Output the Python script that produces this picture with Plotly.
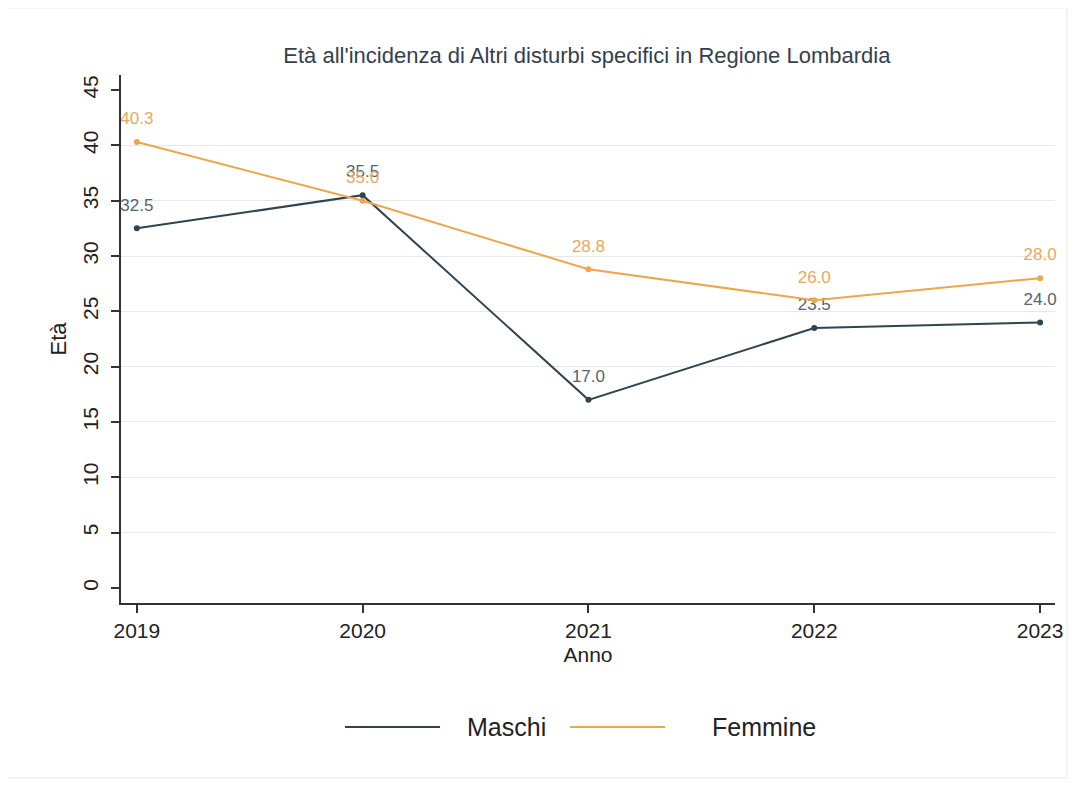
import plotly.graph_objects as go

anni = [2019, 2020, 2021, 2022, 2023]
maschi = [32.5, 35.5, 17.0, 23.5, 24.0]
femmine = [40.3, 35.0, 28.8, 26.0, 28.0]
y_ticks = [0, 5, 10, 15, 20, 25, 30, 35, 40, 45]
grid_ticks = [5, 10, 15, 20, 25, 30, 35, 40]
serie = ["Maschi", "Femmine"]

col_m = "#2e4450"
col_f = "#eca64c"
font = "Liberation Sans, Arial, sans-serif"

fig = go.Figure()
for nome, vals, col, tcol in [("Maschi", maschi, col_m, "#56646b"),
                              ("Femmine", femmine, col_f, "#e6a961")]:
    fig.add_trace(go.Scatter(
        x=anni, y=vals, name=nome, mode="lines+markers", showlegend=False,
        line=dict(color=col, width=2), marker=dict(color=col, size=6),
    ))
    fig.add_trace(go.Scatter(
        x=anni, y=vals, mode="markers+text", showlegend=False, hoverinfo="skip",
        marker=dict(color="rgba(0,0,0,0)", size=20),
        text=[f"{v:.1f}" for v in vals], textposition="top center", cliponaxis=False,
        textfont=dict(color=tcol, size=17, family=font),
    ))
# invisible trace on overlay axis for gridlines
fig.add_trace(go.Scatter(x=anni, y=maschi, yaxis="y2", mode="lines",
                         line=dict(width=0), showlegend=False, hoverinfo="skip",
                         opacity=0))

yr = [-1.36, 46.36]
fig.update_layout(
    width=1070, height=777,
    paper_bgcolor="white", plot_bgcolor="rgba(0,0,0,0)",
    margin=dict(l=113, r=23, t=67, b=182),
    font=dict(family=font, color="#222222"),
    title=dict(text="Età all'incidenza di Altri disturbi specifici in Regione Lombardia",
               x=0.541, xanchor="center", y=1 - 47 / 777, yanchor="middle",
               font=dict(size=22, color="#33414d", family=font)),
    xaxis=dict(range=[2018.93, 2023.066], tickvals=anni, ticktext=[str(a) for a in anni],
               showgrid=False, zeroline=False, showline=True, linecolor="#333333", linewidth=1.5,
               ticks="outside", ticklen=8, tickcolor="#333333", tickwidth=1.5,
               tickfont=dict(size=21, color="#222222"),
               title=dict(text="Anno", font=dict(size=21, color="#222222"), standoff=6)),
    yaxis=dict(range=yr, tickvals=y_ticks, showgrid=False, zeroline=False,
               showline=True, linecolor="#333333", linewidth=1.5,
               ticks="outside", ticklen=8, tickcolor="#333333", tickwidth=1.5,
               tickangle=-90, tickfont=dict(size=21, color="#222222"), ticklabelstandoff=5,
               title=dict(text="Età", font=dict(size=22, color="#222222"), standoff=6)),
    yaxis2=dict(range=yr, overlaying="y", tickvals=grid_ticks, showgrid=True,
                gridcolor="#e8e8e8", gridwidth=1, showticklabels=False, zeroline=False,
                showline=False, layer="below traces"),
    showlegend=False,
)

# legend drawn manually (long line samples as in the reference)
ly = (603 - 727) / 528
leg = [(serie[0], col_m, 345, 440, 465), (serie[1], col_f, 570, 665, 710)]
for nome, col, a, b, t in leg:
    fig.add_shape(type="line", xref="paper", yref="paper",
                  x0=(a - 121) / 934, x1=(b - 121) / 934, y0=ly, y1=ly,
                  line=dict(color=col, width=2))
    fig.add_annotation(text=nome, xref="paper", yref="paper", x=(t - 121) / 934, y=ly,
                       xanchor="left", yanchor="middle", showarrow=False,
                       font=dict(size=25, color="#222222", family=font))

fig.add_shape(type="rect", xref="paper", yref="paper",
              x0=-115 / 934, x1=1 + 12 / 934, y0=-175 / 528, y1=1 + 67 / 528,
              line=dict(color="#f0f0f0", width=1.5), fillcolor="rgba(0,0,0,0)", layer="below")
fig.write_html("out.html")
